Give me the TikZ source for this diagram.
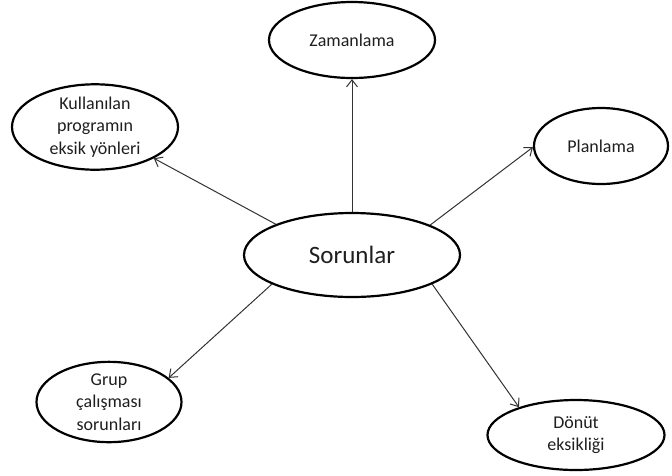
\documentclass[tikz,border=0pt]{standalone}
\usepackage{fontspec}
\setmainfont{Carlito}
\usetikzlibrary{shapes.geometric,arrows.meta}
\tikzset{
  bubble/.style={ellipse, draw=black, line width=2.2pt, fill=white, inner sep=0pt,
    align=center, font=\fontsize{18}{22.5}\selectfont, text=black!88},
  link/.style={draw=black!80, line width=1pt,
    -{Straight Barb[length=7pt,width=11pt,line width=1pt]}}
}
\begin{document}
\begin{tikzpicture}[x=1pt,y=-1pt]
  \useasboundingbox (0,0) rectangle (672,475);
  % central topic
  \node[bubble, minimum width=216pt, minimum height=84pt,
        font=\fontsize{25}{30}\selectfont] (s) at (352,255) {Sorunlar};
  % surrounding problems
  \node[bubble, minimum width=166pt, minimum height=76pt] (z) at (352,40) {Zamanlama};
  \node[bubble, minimum width=166pt, minimum height=83pt] (k) at (95,127)
    {Kullanılan\\programın\\eksik yönleri};
  \node[bubble, minimum width=134pt, minimum height=76pt] (p) at (601,146) {Planlama};
  \node[bubble, minimum width=145pt, minimum height=76pt] (g) at (109,402)
    {Grup\\çalışması\\sorunları};
  \node[bubble, minimum width=177pt, minimum height=70pt] (d) at (576,435)
    {Dönüt\\eksikliği};
  % connectors
  \draw[link] (s.north) -- (z.south);
  \draw[link] (s.158.7) -- (k.332.7);
  \draw[link] (s.21) -- (p.181.7);
  \draw[link] (s.200) -- (g.22.2);
  \draw[link] (s.340.3) -- (d.154.5);
\end{tikzpicture}
\end{document}
